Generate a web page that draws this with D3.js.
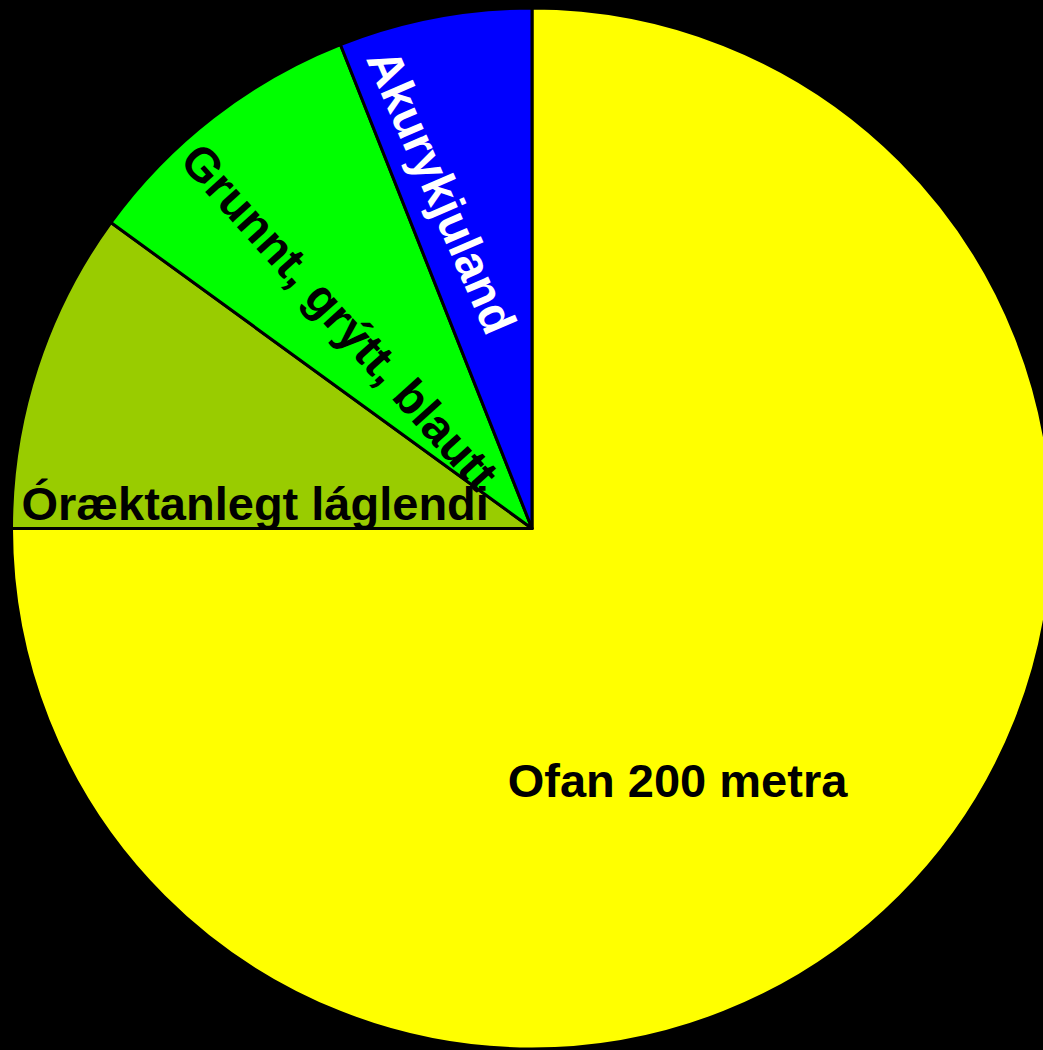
<!DOCTYPE html>
<html>
<head>
<meta charset="utf-8">
<script src="https://cdn.jsdelivr.net/npm/d3@7"></script>
<style>
  html, body { margin: 0; padding: 0; background: #000; }
  svg { display: block; }
</style>
</head>
<body>
<svg id="chart" width="1043" height="1050"></svg>
<script>
// Data
const categories = ["Ofan 200 metra", "Óræktanlegt láglendi", "Grunnt, grýtt, blautt", "Akurykjuland"];
const values = [75, 10, 9, 6];
const colors = ["#FFFF00", "#99CC00", "#00FF00", "#0000FF"];
const labelColors = ["#000000", "#000000", "#000000", "#FFFFFF"];

// Label placement (polar, degrees clockwise from top; radius in px; text rotation; font size)
const labelAngle = [150, 275.2, 317.8, 345];
const labelRadius = [291, 278, 286, 349];
const labelRotate = [0, 0, 48, 66.5];
const labelSize = [47, 47, 47.5, 48];

const W = 1043, H = 1050;
const cx = 532, cy = 528.5, R = 520.5;

const svg = d3.select("#chart");
svg.append("rect").attr("width", W).attr("height", H).attr("fill", "#000");

const data = categories.map((c, i) => ({ name: c, value: values[i], i }));
const pie = d3.pie().sort(null).value(d => d.value);
const arc = d3.arc().innerRadius(0).outerRadius(R);

const g = svg.append("g").attr("transform", `translate(${cx},${cy})`);

g.selectAll("path.slice")
  .data(pie(data))
  .join("path")
  .attr("class", "slice")
  .attr("d", arc)
  .attr("fill", d => colors[d.data.i])
  .attr("stroke", "#000")
  .attr("stroke-width", 3)
  .attr("stroke-linejoin", "round");

g.selectAll("text.lbl")
  .data(data)
  .join("text")
  .attr("class", "lbl")
  .attr("transform", d => {
    const a = labelAngle[d.i] * Math.PI / 180;
    const x = labelRadius[d.i] * Math.sin(a);
    const y = -labelRadius[d.i] * Math.cos(a);
    return `translate(${x},${y}) rotate(${labelRotate[d.i]})`;
  })
  .attr("text-anchor", "middle")
  .attr("dy", "0.35em")
  .attr("fill", d => labelColors[d.i])
  .style("font-family", "'Liberation Sans', Arial, sans-serif")
  .style("font-weight", "bold")
  .style("font-size", d => labelSize[d.i] + "px")
  .text(d => d.name);
</script>
</body>
</html>
